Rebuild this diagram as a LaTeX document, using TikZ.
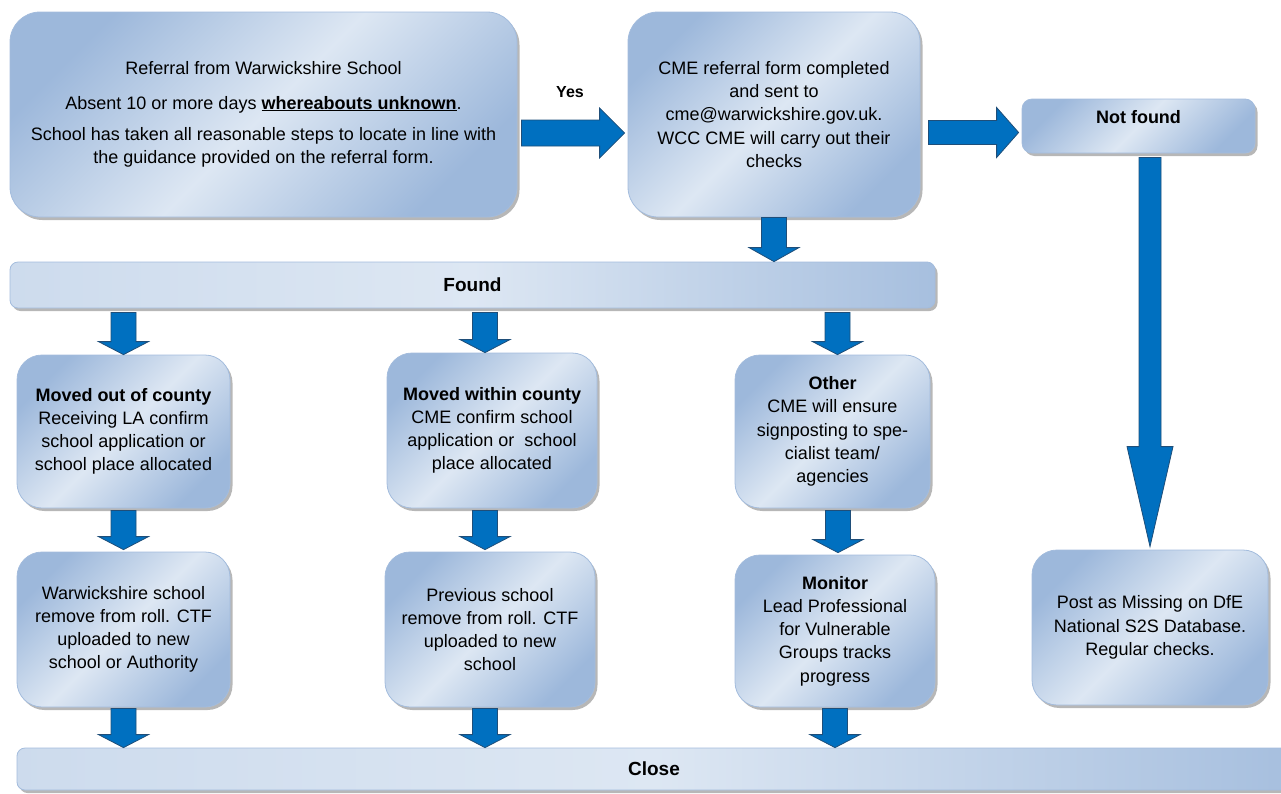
\documentclass[tikz,border=0pt]{standalone}
\usepackage{fontspec}
\setmainfont{Liberation Sans}
\usetikzlibrary{shadows, calc}
\definecolor{boxlight}{HTML}{DDE7F3}
\definecolor{boxdark}{HTML}{9DB8DB}
\definecolor{boxedge}{HTML}{A3BCDD}
\definecolor{arrowblue}{HTML}{0070C0}
\definecolor{arrowline}{HTML}{1F4E79}
\tikzset{
  cmebox/.style={draw=boxedge, line width=0.8pt, rounded corners=#1,
    left color=boxdark, right color=boxdark, middle color=boxlight, shading angle=45,
    drop shadow={shadow xshift=2.5pt, shadow yshift=-3pt, opacity=0.4, fill=black!70},
    align=center, inner sep=0pt, font=\fontsize{18}{23.2}\selectfont},
  cmebox/.default=25pt,
  cmebar/.style={cmebox=8pt, shading angle=0, left color=boxlight!75!boxdark,
    right color=boxdark!85!boxlight, middle color=boxlight,
    font=\bfseries\fontsize{19}{23}\selectfont},
  blkdown/.style n args={3}{draw=arrowline, fill=arrowblue, line width=0.8pt,
    to path={let \p1=(\tikztostart), \p2=(\tikztotarget) in
      (\x2-#1pt,\y1) -- (\x2+#1pt,\y1) -- (\x2+#1pt,\y2+#3pt) -- (\x2+#2pt,\y2+#3pt)
      -- (\x2,\y2) -- (\x2-#2pt,\y2+#3pt) -- (\x2-#1pt,\y2+#3pt) -- cycle}},
  blkright/.style n args={3}{draw=arrowline, fill=arrowblue, line width=0.8pt,
    to path={let \p1=(\tikztostart), \p2=(\tikztotarget) in
      (\x1,\y1+#1pt) -- (\x2-#3pt,\y1+#1pt) -- (\x2-#3pt,\y1+#2pt) -- (\x2,\y1)
      -- (\x2-#3pt,\y1-#2pt) -- (\x2-#3pt,\y1-#1pt) -- (\x1,\y1-#1pt) -- cycle}},
}
\begin{document}
\begin{tikzpicture}[x=1pt,y=-1pt]
\useasboundingbox (0,0) rectangle (1281,793);
% referral and checks
\node[cmebox=30pt, minimum width=507pt, minimum height=205pt] (referral) at (263.5,114.5)
  {Referral from Warwickshire School\\[11pt]
   Absent 10 or more days \underline{\textbf{whereabouts unknown}}.\\[8pt]
   School has taken all reasonable steps to locate in line with\\
   the guidance provided on the referral form.};
\node[cmebox=30pt, minimum width=292pt, minimum height=205pt] (cmecheck) at (774,114.5)
  {CME referral form completed\\ and sent to\\ cme@warwickshire.gov.uk.\\
   WCC CME will carry out their\\ checks};
\node[cmebox=10pt, minimum width=233pt, minimum height=54pt, text height=13pt, text depth=18pt,
  font=\bfseries\fontsize{18}{22}\selectfont] (notfound) at (1138.5,126) {Not found};
\node[font=\bfseries\fontsize{16}{19}\selectfont] (yes) at (570,92) {Yes};
% found / close bars
\node[cmebar, minimum width=925pt, minimum height=46pt] (found) at (472.5,285) {Found};
\node[cmebar, minimum width=1274pt, minimum height=42pt] (close) at (654,769) {Close};
% found outcomes
\node[cmebox, minimum width=213pt, minimum height=153pt] (outcounty) at (123.5,431.5)
  {\textbf{Moved out of county}\\ Receiving LA confirm\\ school application or\\ school place allocated};
\node[cmebox, minimum width=210pt, minimum height=155pt] (withincounty) at (492,430.5)
  {\textbf{Moved within county}\\ CME confirm school\\ application or~ school\\ place allocated};
\node[cmebox, minimum width=195pt, minimum height=153pt] (other) at (832.5,431.5)
  {\textbf{Other}\\ CME will ensure\\ signposting to spe-\\ cialist team/\\ agencies};
\node[cmebox, minimum width=213pt, minimum height=155pt] (wschool) at (123.5,629.5)
  {Warwickshire school\\ remove from roll. CTF\\ uploaded to new\\ school or Authority};
\node[cmebox, minimum width=210pt, minimum height=155pt] (prevschool) at (490,629.5)
  {Previous school\\ remove from roll. CTF\\ uploaded to new\\ school};
\node[cmebox, minimum width=200pt, minimum height=152pt] (monitor) at (835,631)
  {\textbf{Monitor}\\ Lead Professional\\ for Vulnerable\\ Groups tracks\\ progress};
\node[cmebox, minimum width=236pt, minimum height=155pt] (missing) at (1150,627.5)
  {Post as Missing on DfE\\ National S2S Database.\\ Regular checks.};
% block arrows
\draw[blkright={13}{25}{25}] ([xshift=4pt,yshift=-18.5pt]referral.east) to ([xshift=-3pt]cmecheck.west);
\draw[blkright={12}{25}{22}] ([xshift=8pt,yshift=-18pt]cmecheck.east) to ([xshift=-3pt]notfound.west);
\draw[blkdown={12.5}{25}{14}] (cmecheck.south) to (found.north -| cmecheck.south);
\draw[blkdown={11}{23}{100}] ([yshift=-4pt]notfound.south) to ([yshift=3pt]missing.north);
\draw[blkdown={12.5}{25}{13}] ([yshift=-4pt]found.south) to (outcounty.north);
\draw[blkdown={12.5}{25}{13}] ([yshift=-4pt]found.south) to ([xshift=-7pt]withincounty.north);
\draw[blkdown={12.5}{25}{13}] ([yshift=-4pt]found.south) to ([xshift=5pt]other.north);
\draw[blkdown={12.5}{25}{13}] ([yshift=-2pt]outcounty.south) to ([yshift=2pt]wschool.north);
\draw[blkdown={12.5}{25}{13}] ([yshift=-2pt]withincounty.south) to ([xshift=-5pt,yshift=2pt]prevschool.north);
\draw[blkdown={12.5}{25}{13}] ([yshift=-2pt]other.south) to ([xshift=3pt,yshift=2pt]monitor.north);
\draw[blkdown={12.5}{25}{13}] ([yshift=-1pt]wschool.south) to (close.north -| wschool.south);
\draw[blkdown={12.5}{25}{13}] ([yshift=-1pt]prevschool.south) to ($(close.north -| prevschool.south)+(-5,0)$);
\draw[blkdown={12.5}{25}{13}] ([yshift=-1pt]monitor.south) to (close.north -| monitor.south);
\end{tikzpicture}
\end{document}
